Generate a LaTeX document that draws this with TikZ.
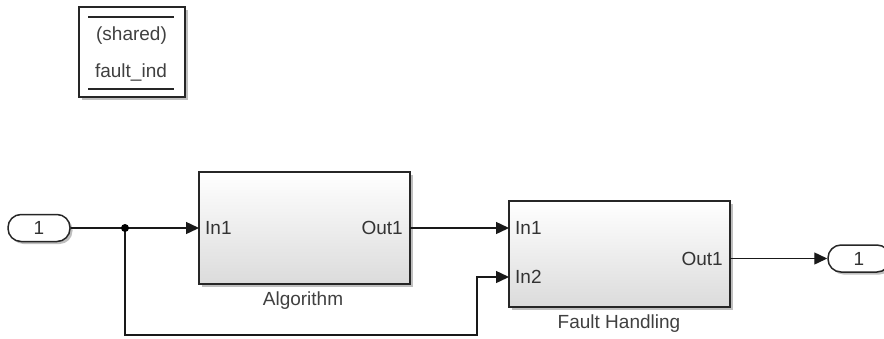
\documentclass[tikz,border=0pt]{standalone}
\usepackage{fontspec}
\setmainfont{Liberation Sans}
\usetikzlibrary{arrows.meta,shadows}
\tikzset{
  x=1pt, y=-1pt,
  every node/.style={font=\fontsize{19}{21}\selectfont, text=black!80, inner sep=0pt},
  sh/.style={drop shadow={shadow xshift=2.5pt, shadow yshift=-2.5pt, opacity=0.25, fill=black}},
  subsys/.style={draw=black!85, line width=1.5pt, top color=white, bottom color=black!14, sh},
  port/.style={draw=black!85, line width=1.5pt, fill=white, rounded corners=13pt, minimum width=62pt, minimum height=27pt, sh},
  sig/.style={line width=1.4pt, draw=black!90},
  arr/.style={sig, -{Triangle[length=13pt,width=12pt]}},
  lbl/.style={font=\fontsize{19}{21}\selectfont, text=black!75},
}
\begin{document}
\begin{tikzpicture}
\useasboundingbox (0,0) rectangle (884,338);
% shared data store box
\node[draw=black!85, line width=1.5pt, fill=white, minimum width=106pt, minimum height=90pt, sh] (ds) at (132,52) {};
\draw[line width=1.4pt, black!85] (88,17) -- (174,17);
\draw[line width=1.4pt, black!85] (88,89) -- (174,89);
\node[lbl] (dst) at (131.5,36) {(shared)};
\node[lbl] (dsn) at (131,73) {fault\_ind};
% inport and outport
\node[port] (in) at (39,228) {1};
\node[port] (out) at (859,258.5) {1};
% subsystems
\node[subsys, minimum width=211pt, minimum height=112pt] (alg) at (304.5,228) {};
\node[lbl] (algl) at (303,301) {Algorithm};
\node[subsys, minimum width=221pt, minimum height=106pt] (fh) at (619.5,254) {};
\node[lbl] (fhl) at (619,324) {Fault Handling};
% port labels
\coordinate (alg-in1) at (199,228);
\coordinate (alg-out1) at (410,228);
\coordinate (fh-in1) at (509,228);
\coordinate (fh-in2) at (509,277);
\coordinate (fh-out1) at (730,258.5);
\node[anchor=west] (t1) at (205,228) {In1};
\node[anchor=east] (t2) at (403,228) {Out1};
\node[anchor=west] (t3) at (515,228) {In1};
\node[anchor=west] (t4) at (515,277) {In2};
\node[anchor=east] (t5) at (723,258.5) {Out1};
% connectors
\coordinate (j) at (125,228);
\coordinate (c1) at (125,335);
\coordinate (c2) at (477,335);
\coordinate (c3) at (477,277);
\draw[sig] (in.east) -- (j);
\draw[arr] (j) -- (alg-in1);
\draw[arr] (j) -- (c1) -- (c2) -- (c3) -- (fh-in2);
\fill[black] (j) circle (4pt);
\draw[arr] (alg-out1) -- (fh-in1);
\draw[arr] (fh-out1) -- (out.west);
\end{tikzpicture}
\end{document}
